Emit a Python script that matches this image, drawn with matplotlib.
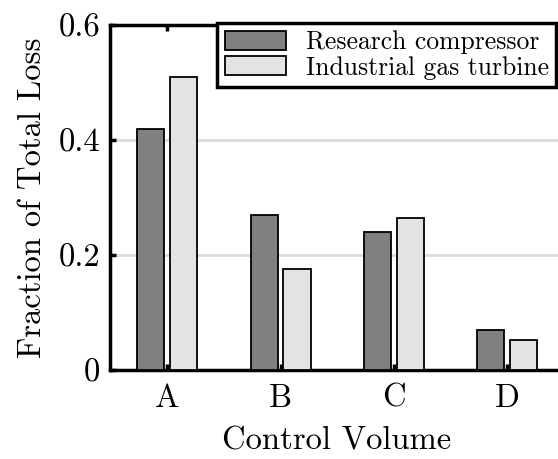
import numpy as np
import matplotlib.pyplot as plt

plt.rcParams['font.family'] = 'cmr10'
plt.rcParams['mathtext.fontset'] = 'cm'
plt.rcParams['axes.formatter.use_mathtext'] = True

# loss fractions per control volume
volumes = ['A', 'B', 'C', 'D']
research = [0.42, 0.27, 0.24, 0.07]
industrial = [0.51, 0.175, 0.264, 0.053]

x = np.arange(len(volumes))
w = 0.24
off = 0.145

fig = plt.figure(figsize=(5.58, 4.59), dpi=100)
ax = fig.add_axes([110 / 558, 1 - 370 / 459, 453.6 / 558, 345 / 459])

ax.bar(x - off, research, w, color='#808080', edgecolor='black', linewidth=1.3,
       label='Research compressor', zorder=3)
ax.bar(x + off, industrial, w, color='#e3e3e3', edgecolor='black', linewidth=1.3,
       label='Industrial gas turbine', zorder=3)

ax.set_xlim(-0.506, 3.5)
ax.set_ylim(0, 0.6)
ax.set_xticks(x)
ax.set_xticklabels(volumes)
ax.set_yticks([0, 0.2, 0.4, 0.6])
ax.set_yticklabels(['0', '0.2', '0.4', '0.6'])
ax.yaxis.grid(True, color='#dcdcdc', linewidth=2, zorder=0)
ax.set_axisbelow(True)

ax.tick_params(direction='in', length=4, width=2.5, labelsize=23.5,
               top=True, right=False)
ax.tick_params(axis='x', pad=10)
ax.tick_params(axis='y', pad=7)
for s in ax.spines.values():
    s.set_linewidth(2.5)

ax.set_xlabel('Control Volume', fontsize=23.5, labelpad=10)
ax.set_ylabel('Fraction of Total Loss', fontsize=23.5, labelpad=8)

leg = ax.legend(loc='upper left', fontsize=18.5, fancybox=False, framealpha=1,
                edgecolor='black', borderaxespad=0, handlelength=2.4,
                handleheight=0.8, labelspacing=0.05, borderpad=0.3,
                handletextpad=0.75, bbox_to_anchor=(217 / 558, 1 - 23 / 459),
                bbox_transform=fig.transFigure)
leg.get_frame().set_linewidth(2.5)

fig.savefig('out.png', dpi=100)
